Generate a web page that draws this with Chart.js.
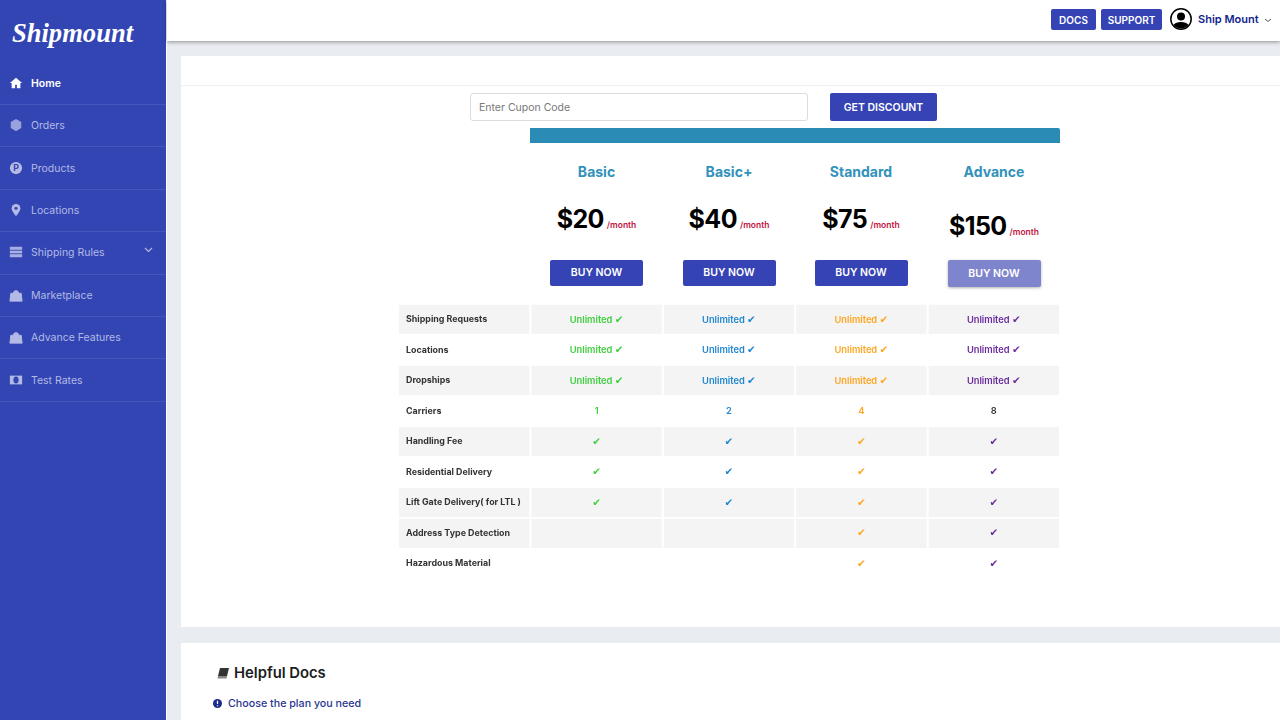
<!DOCTYPE html>
<html><head><meta charset="utf-8"><title>Shipmount plans</title>
<script src="https://cdn.jsdelivr.net/npm/chart.js@4"></script>
<style>
*{box-sizing:border-box}
html,body{margin:0;padding:0;width:1280px;height:720px;overflow:hidden;background:#e9ecf1;font-family:Inter,"Open Sans",sans-serif}
.a{position:absolute;white-space:nowrap}
.c{transform:translate(-50%,-50%)}
.v{transform:translateY(-50%)}
#side{left:0;top:0;width:166px;height:720px;background:#3245b3}
#edge{left:166px;top:0;width:1px;height:720px;background:#fff}
#top{left:167px;top:0;width:1113px;height:41px;background:#fff;box-shadow:0 1px 4px rgba(0,0,0,.4)}
.card{background:#fff;left:181px;width:1099px}
.btn{background:#3643b5;color:#fff;border-radius:2px;font-weight:600;display:flex;align-items:center;justify-content:center}
.sep{left:0;width:166px;height:1px;background:#4456bb}
.item{left:31px;font-size:10.5px;color:#b3bae6;transform:translateY(-50%)}
.ic{position:absolute}
.ic svg{display:block}
#tableBox{position:absolute;left:398px;top:304px;width:662px;height:275px}
</style></head><body>
<div class="a" id="side"></div><div class="a" id="edge"></div><div class="a" id="top"></div>
<div class="a card" style="top:56px;height:571px"></div>
<div class="a" style="left:181px;top:85px;width:1099px;height:1px;background:#f1f1f1"></div>
<div class="a card" style="top:643px;height:77px"></div>
<div class="a c" style="left:72.5px;top:33px;font:italic 700 26.6px 'Liberation Serif',serif;color:#fff" id="logo"></div>
<div id="layer"></div>
<div id="tableBox"><canvas id="plans"></canvas></div>
<script>
const menuItems=['Home','Orders','Products','Locations','Shipping Rules','Marketplace','Advance Features','Test Rates'];
const planNames=['Basic','Basic+','Standard','Advance'];
const planPrices=['$20','$40','$75','$150'];
const featureLabels=['Shipping Requests','Locations','Dropships','Carriers','Handling Fee','Residential Delivery','Lift Gate Delivery( for LTL )','Address Type Detection','Hazardous Material'];
const labelColumn=[1,1,1,1,1,1,1,1,1];
const columnSpan=[1,1,1,1,1,1,1,1,1];
const basicCells=['Unlimited','Unlimited','Unlimited','1','yes','yes','yes','',''];
const basicPlusCells=['Unlimited','Unlimited','Unlimited','2','yes','yes','yes','',''];
const standardCells=['Unlimited','Unlimited','Unlimited','4','yes','yes','yes','yes','yes'];
const advanceCells=['Unlimited','Unlimited','Unlimited','8','yes','yes','yes','yes','yes'];
const shadedRows=[0,2,4,6,7];
const planColors=['#3fcf3f','#1f86d0','#ffa51f','#6a2c9e'];

const layer=document.getElementById('layer');
function el(cls,style,html){const d=document.createElement('div');d.className=cls;d.style.cssText=style;if(html!==undefined)d.innerHTML=html;layer.appendChild(d);return d;}
document.getElementById('logo').textContent='Shipmount';

/* sidebar */
const menuY=[83,125,168,210,252,295,337,380];
const sepY=[104,146,189,231,274,316,358,401];
const icons=[
 '<path d="M8 2 1 8h2v6h4v-4h2v4h4V8h2z" fill="#fff"/>',
 '<path d="M8 1l6 3.5v7L8 15l-6-3.5v-7z" fill="#98a3dd"/>',
 '<circle cx="8" cy="8" r="7" fill="#b3bae6"/><text x="8" y="11.5" text-anchor="middle" font-size="10" font-weight="700" fill="#3245b3" font-family="Inter">P</text>',
 '<path d="M8 1a5 5 0 0 0-5 5c0 3.5 5 9 5 9s5-5.500 5-9a5 5 0 0 0-5-5z" fill="#b3bae6"/><circle cx="8" cy="6" r="1.800" fill="#3245b3"/>',
 '<rect x="1" y="2" width="14" height="12" fill="#a8b0e2"/><path d="M1 6h14M1 10h14" stroke="#3245b3"/>',
 '<path d="M2 6h12l1 9H1zM5 6a3 3 0 0 1 6 0" fill="#b3bae6" stroke="#b3bae6"/>',
 '<path d="M2 6h12l1 9H1zM5 6a3 3 0 0 1 6 0" fill="#b3bae6" stroke="#b3bae6"/>',
 '<rect x="1" y="3" width="14" height="10" fill="#b3bae6"/><ellipse cx="8" cy="8" rx="3" ry="4" fill="#3245b3"/>'
];
menuItems.forEach((m,i)=>{
 el('a item',`top:${menuY[i]}px;`+(i===0?'color:#fff;font-weight:600':''),m);
 el('a sep',`top:${sepY[i]}px`);
 el('ic',`left:9px;top:${menuY[i]-8}px`,`<svg width="14" height="16" viewBox="0 0 16 16">${icons[i]}</svg>`);
});
el('ic','left:144px;top:247px','<svg width="9" height="7" viewBox="0 0 9 7"><path d="M1 1l3.500 3.500L8 1" stroke="#b3bae6" stroke-width="1.200" fill="none"/></svg>');

/* top bar */
el('a btn','left:1051px;top:9px;width:45px;height:21px;font-size:10px','DOCS');
el('a btn','left:1101px;top:9px;width:61px;height:21px;font-size:10px','SUPPORT');
el('ic','left:1170px;top:8px','<svg width="22" height="22" viewBox="0 0 22 22"><circle cx="11" cy="11" r="10.200" fill="#fff" stroke="#000" stroke-width="1.500"/><circle cx="11" cy="8.500" r="4" fill="#000"/><path d="M3.500 17c2-4 13-4 15 0a10 10 0 0 1-15 0z" fill="#000"/></svg>');
el('a v','left:1198px;top:19px;font-size:11px;font-weight:600;color:#121f8c','Ship Mount');
el('ic','left:1264px;top:18px','<svg width="8" height="5" viewBox="0 0 8 5"><path d="M1 1l3 2.500L7 1" stroke="#555" fill="none"/></svg>');

/* coupon */
el('a v','left:470px;top:107px;width:338px;height:28px;border:1px solid #dcdcdc;border-radius:3px;font-size:10.5px;color:#777;padding-left:8px;line-height:27px;background:#fff','Enter Cupon Code');
el('a btn','left:830px;top:93px;width:107px;height:28px;font-size:10.5px','GET DISCOUNT');
el('a','left:530px;top:128px;width:530px;height:15px;background:#2a8cb5;border-top-right-radius:2px');

/* plan headers */
const planX=[596.5,729,861,994];
planNames.forEach((n,i)=>{
 el('a c',`left:${planX[i]}px;top:171px;font-size:14px;font-weight:700;color:#3292bb`,n);
 const adv=i===3, y=adv?226:219;
 el('a',`left:${planX[i]}px;top:${y}px;transform:translate(-50%,-50%);display:flex;align-items:baseline`,
  `<span style="font-size:25px;font-weight:700;color:#000;letter-spacing:-.6px">${planPrices[i]}</span><span style="font-size:8.5px;font-weight:600;color:#c2143f;margin-left:3px">/month</span>`);
 el('a btn',`left:${planX[i]-46.5}px;top:260px;width:93px;height:${adv?27:26}px;font-size:10.5px;`+(adv?'background:#7f85cc;box-shadow:0 1px 3px rgba(0,0,0,.3)':'padding-bottom:1px'),'BUY NOW');
});

/* docs */
el('ic','left:217px;top:668px','<svg width="13" height="11" viewBox="0 0 13 11"><path d="M3 0h9l-2 8H1z" fill="#333"/><path d="M1 8h9l-.5 2.500H.5z" fill="#888"/></svg>');
el('a v','left:234px;top:672.5px;font-size:14.8px;font-weight:600;color:#1d1d1f','Helpful Docs');
el('ic','left:213px;top:699px','<svg width="9" height="9" viewBox="0 0 10 10"><circle cx="5" cy="5" r="5" fill="#1b2a8c"/><path d="M5 2v3.500M5 7v1" stroke="#fff" stroke-width="1.400"/></svg>');
el('a v','left:228px;top:703px;font-size:10.7px;font-weight:500;color:#2a3690','Choose the plan you need');

/* comparison table: stacked horizontal bars, one bar per cell */
const cellSets=[basicCells,basicPlusCells,standardCells,advanceCells];
const cellFill=ctx=>shadedRows.includes(ctx.dataIndex)?'#f4f4f4':'rgba(0,0,0,0)';
const cellText={id:'cellText',afterDatasetsDraw(chart){
 const g=chart.ctx;g.save();g.textBaseline='middle';
 cellSets.forEach((cells,pi)=>{
  const meta=chart.getDatasetMeta(pi+1);
  cells.forEach((t,row)=>{
   if(!t)return;
   const c=meta.data[row].getCenterPoint();
   const y=c.y+.5;
   let col=planColors[pi];
   const isNum=t!=='yes'&&t!=='Unlimited';
   if(isNum&&pi===3)col='#333';
   g.fillStyle=col;
   const tf='600 9.3px Inter',cf='10.5px "DejaVu Sans"';
   if(t==='yes'){g.font=cf;g.textAlign='center';g.fillText('\u2714',c.x,y);}
   else if(isNum){g.font=tf;g.textAlign='center';g.fillText(t,c.x,y);}
   else{
    g.font=tf;const w=g.measureText(t+' ').width;g.font=cf;const w2=g.measureText('\u2714').width;
    const sx=c.x-(w+w2)/2;g.textAlign='left';g.font=tf;g.fillText(t,sx,y);g.font=cf;g.fillText('\u2714',sx+w,y);
   }
  });
 });
 g.restore();
}};
const common={backgroundColor:cellFill,borderColor:'#fff',borderWidth:{left:1,right:1,top:0,bottom:0},borderSkipped:false,barPercentage:1,categoryPercentage:.965};
new Chart(document.getElementById('plans'),{
 type:'bar',
 data:{labels:featureLabels,datasets:[
  {label:'Feature',data:labelColumn,...common},
  ...planNames.map(n=>({label:n,data:columnSpan,...common}))
 ]},
 options:{indexAxis:'y',responsive:true,maintainAspectRatio:false,animation:false,
  layout:{padding:0},
  plugins:{legend:{display:false},tooltip:{enabled:false},title:{display:false}},
  scales:{
   x:{type:'linear',stacked:true,min:0,max:5,display:false},
   y:{type:'category',stacked:true,grid:{display:false,drawTicks:false},border:{display:false},
      afterFit(s){s.width=0;s.paddingTop=0;s.paddingBottom=0;s.paddingLeft=0;s.paddingRight=0;},
      ticks:{mirror:true,padding:8,z:2,color:'#333',font:{family:'Inter',size:8.9,weight:'700'},autoSkip:false}}
  }},
 plugins:[cellText]
});
</script></body></html>
